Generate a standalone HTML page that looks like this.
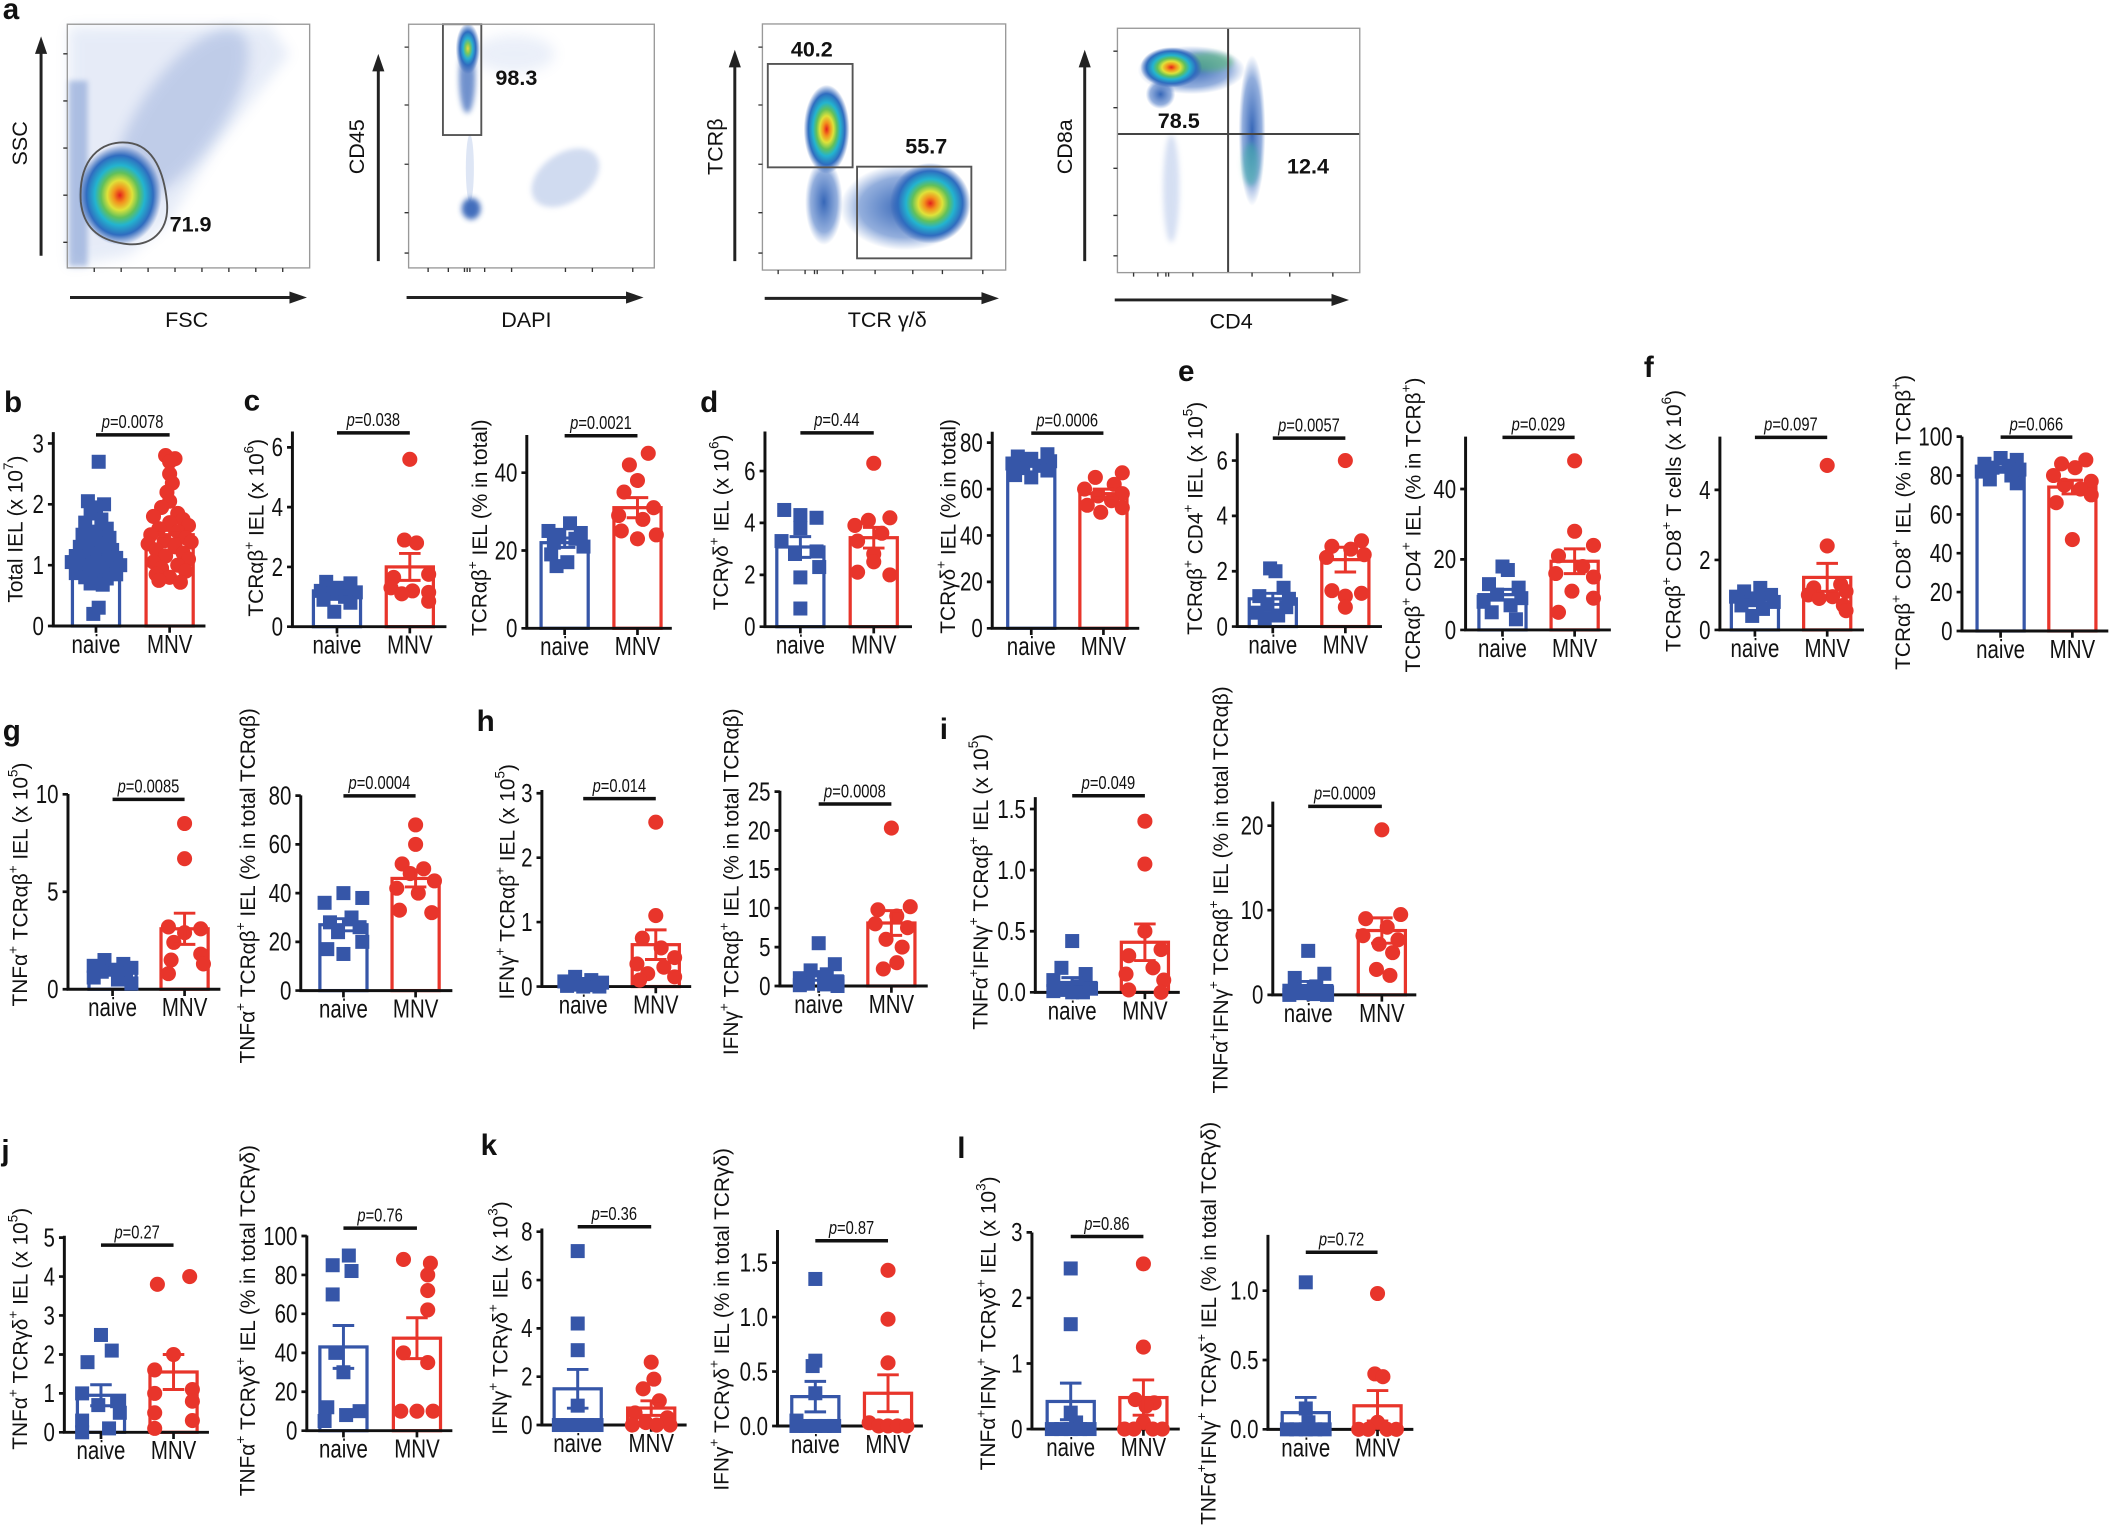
<!DOCTYPE html>
<html><head><meta charset="utf-8"><style>
html,body{margin:0;padding:0;background:#fff}
svg{display:block}
</style></head><body>
<svg xmlns="http://www.w3.org/2000/svg" width="2111" height="1526" viewBox="0 0 1568 1133.5" preserveAspectRatio="none">
<defs>
<style>
text{font-family:"Liberation Sans",Arial,sans-serif;fill:#111}
.ax{fill:none;stroke:#111;stroke-width:2.2}
.tk{fill:none;stroke:#111;stroke-width:2}
.bb{fill:#fff;stroke:#3656a8;stroke-width:2.4}
.rb{fill:#fff;stroke:#e8352b;stroke-width:2.4}
.eb{fill:none;stroke:#3656a8;stroke-width:2.2}
.er{fill:none;stroke:#e8352b;stroke-width:2.2}
.pl{stroke:#111;stroke-width:2.6}
.tl{font-size:19px;text-anchor:end;dominant-baseline:central;transform-box:fill-box;transform-origin:100% 50%;transform:scaleX(.8)}
.xl{font-size:19px;text-anchor:middle;transform-box:fill-box;transform-origin:50% 50%;transform:scaleX(.8)}
.pv{font-size:14px;text-anchor:middle;transform-box:fill-box;transform-origin:50% 50%;transform:scaleX(.78)}
.yl{font-size:15.5px;text-anchor:middle;dominant-baseline:central}
.pn{font-size:22px;font-weight:bold}
.fl{font-size:16px}
.fn{font-size:16px;font-weight:bold}
.fr{fill:none;stroke:#999;stroke-width:1}
.gt{fill:none;stroke:#555;stroke-width:1.4}
.ar{fill:none;stroke:#222;stroke-width:2.2}
.ft{fill:none;stroke:#333;stroke-width:1}
</style>
<rect id="s" x="-5.2" y="-5.2" width="10.4" height="10.4" fill="#3656a8"/>
<circle id="c" r="5.6" fill="#e8352b"/>
<radialGradient id="jet"><stop offset="0" stop-color="#e3201b"/><stop offset=".15" stop-color="#f3901d"/><stop offset=".3" stop-color="#dfe23a"/><stop offset=".45" stop-color="#62c05a"/><stop offset=".6" stop-color="#23b4cf"/><stop offset=".8" stop-color="#2f6cbf"/><stop offset="1" stop-color="#2f5fb5" stop-opacity="0"/></radialGradient>
<radialGradient id="jet2"><stop offset="0" stop-color="#e8d840"/><stop offset=".2" stop-color="#7cc85a"/><stop offset=".4" stop-color="#2ab0d0"/><stop offset=".65" stop-color="#2f6cbf"/><stop offset="1" stop-color="#2f5fb5" stop-opacity="0"/></radialGradient>
<radialGradient id="blu"><stop offset="0" stop-color="#2c5fb4" stop-opacity=".95"/><stop offset=".7" stop-color="#3a6cc0" stop-opacity=".55"/><stop offset="1" stop-color="#4a78c8" stop-opacity="0"/></radialGradient>
<filter id="bl" x="-50%" y="-50%" width="200%" height="200%"><feGaussianBlur stdDeviation="5"/></filter>
<filter id="bl2" x="-50%" y="-50%" width="200%" height="200%"><feGaussianBlur stdDeviation="2"/></filter>
</defs>
<rect width="1568" height="1133.5" fill="#fff"/>

<!-- Panel a -->
<text class="pn" x="2" y="14">a</text>
<!-- plot1 -->
<polygon points="51,198 51,20 200,19 215,40 160,110 125,165 95,190" fill="#5b82cf" opacity=".15" filter="url(#bl)"/>
<ellipse cx="135" cy="85" rx="75" ry="30" transform="rotate(-55 135 85)" fill="#3a64b8" opacity=".22" filter="url(#bl)"/>
<rect x="51" y="60" width="14" height="138" fill="#3d68ba" opacity=".35" filter="url(#bl2)"/>
<ellipse cx="89" cy="145" rx="31" ry="37" fill="url(#jet)"/>
<path class="gt" d="M60,150 C58,118 75,104 95,106 C115,108 122,130 124,150 C126,172 112,184 92,181 C72,178 62,168 60,150Z"/>
<rect class="fr" x="50" y="18" width="180" height="181"/>
<path class="ft" d="M50,40h-3M50,75h-3M50,110h-3M50,145h-3M50,180h-3M70,199v3M90,199v3M110,199v3M130,199v3M150,199v3M170,199v3M190,199v3M210,199v3"/>
<text class="fn" x="126" y="172">71.9</text>
<path class="ar" d="M30.5,190V38M52,221H216"/>
<polygon points="30.5,27 26,40 35,40" fill="#222"/><polygon points="228,221 215,216.5 215,225.5" fill="#222"/>
<text class="fl" text-anchor="middle" dominant-baseline="central" transform="translate(15,106.5) rotate(-90)">SSC</text>
<text class="fl" text-anchor="middle" x="138.6" y="243">FSC</text>
<!-- plot2 -->
<ellipse cx="382" cy="40" rx="30" ry="14" fill="#5b82cf" opacity=".12" filter="url(#bl)"/>
<ellipse cx="420" cy="132" rx="28" ry="18" transform="rotate(-35 420 132)" fill="#4a72c4" opacity=".25" filter="url(#bl2)"/>
<ellipse cx="349" cy="125" rx="3" ry="25" fill="#5b82cf" opacity=".2"/>
<ellipse cx="347" cy="58" rx="6" ry="26" fill="#3563b8" opacity=".7" filter="url(#bl2)"/>
<ellipse cx="347.5" cy="36" rx="9" ry="19" fill="url(#jet2)"/>
<ellipse cx="350" cy="155" rx="7" ry="8" fill="#2f5fb5" opacity=".9" filter="url(#bl2)"/>
<rect class="gt" x="329" y="18" width="28.5" height="82.3"/>
<rect class="fr" x="303.5" y="18" width="182.5" height="181"/>
<path class="ft" d="M303.5,35h-3M303.5,78h-3M303.5,122h-3M303.5,158h-3M303.5,188h-3M318,199v3M333,199v3M345,199v3M347,199v3M349,199v3M360,199v3M380,199v3M420,199v3M440,199v3M470,199v3"/>
<text class="fn" x="368" y="63">98.3</text>
<path class="ar" d="M281,194V50M302,221H467"/>
<polygon points="281,40 276.5,53 285.5,53" fill="#222"/><polygon points="478,221 465,216.5 465,225.5" fill="#222"/>
<text class="fl" text-anchor="middle" dominant-baseline="central" transform="translate(265,109) rotate(-90)">CD45</text>
<text class="fl" text-anchor="middle" x="391" y="243">DAPI</text>
<!-- plot3 -->
<ellipse cx="612" cy="150" rx="14" ry="32" fill="url(#blu)"/>
<ellipse cx="672" cy="154" rx="48" ry="32" fill="url(#blu)"/>
<ellipse cx="691" cy="151" rx="30" ry="30" fill="url(#jet)"/>
<ellipse cx="614" cy="96" rx="17" ry="33" fill="url(#jet)"/>
<rect class="gt" x="570.3" y="47.5" width="63" height="76.8"/>
<rect class="gt" x="636.6" y="123.8" width="84.9" height="68.1"/>
<rect class="fr" x="566.3" y="17.8" width="180.7" height="182.8"/>
<path class="ft" d="M566.3,35h-3M566.3,78h-3M566.3,122h-3M566.3,158h-3M566.3,188h-3M578,200.6v3M598,200.6v3M605,200.6v3M607,200.6v3M626,200.6v3M650,200.6v3M678,200.6v3M700,200.6v3M730,200.6v3"/>
<text class="fn" text-anchor="middle" x="603" y="42">40.2</text>
<text class="fn" text-anchor="middle" x="688" y="114">55.7</text>
<path class="ar" d="M545.8,194V47M568,221.6H731"/>
<polygon points="545.8,37 541.3,50 550.3,50" fill="#222"/><polygon points="742,221.6 729,217 729,226" fill="#222"/>
<text class="fl" text-anchor="middle" dominant-baseline="central" transform="translate(531.5,109) rotate(-90)">TCRβ</text>
<text class="fl" text-anchor="middle" x="659" y="243">TCR γ/δ</text>
<!-- plot4 -->
<ellipse cx="870" cy="140" rx="6" ry="40" fill="#5b82cf" opacity=".25" filter="url(#bl2)"/>
<ellipse cx="885" cy="52" rx="40" ry="18" fill="url(#blu)"/>
<ellipse cx="862" cy="70" rx="11" ry="11" fill="url(#blu)"/>
<ellipse cx="930" cy="97" rx="10" ry="56" fill="url(#blu)"/>
<ellipse cx="929" cy="122" rx="6" ry="16" fill="#34b0a0" opacity=".5" filter="url(#bl2)"/>
<ellipse cx="898" cy="46" rx="18" ry="7" fill="#4fb86a" opacity=".55" filter="url(#bl2)"/>
<ellipse cx="870" cy="50" rx="23" ry="15" fill="url(#jet)"/>
<path d="M912.2,21V202.5M830,99.5H1010" stroke="#444" stroke-width="1.5"/>
<rect class="fr" x="830" y="21" width="180" height="181.5"/>
<path class="ft" d="M830,38h-3M830,80h-3M830,125h-3M830,160h-3M830,190h-3M842,202.5v3M860,202.5v3M866,202.5v3M868,202.5v3M886,202.5v3M930,202.5v3M958,202.5v3M990,202.5v3"/>
<text class="fn" x="860" y="95">78.5</text>
<text class="fn" x="956" y="129">12.4</text>
<path class="ar" d="M805.7,194V47M828,222.8H991"/>
<polygon points="805.7,37 801.2,50 810.2,50" fill="#222"/><polygon points="1002,222.8 989,218.3 989,227.3" fill="#222"/>
<text class="fl" text-anchor="middle" dominant-baseline="central" transform="translate(791,109) rotate(-90)">CD8a</text>
<text class="fl" text-anchor="middle" x="914.5" y="244">CD4</text>

<!-- Panel letters -->
<text class="pn" x="3" y="306">b</text>
<text class="pn" x="181" y="305">c</text>
<text class="pn" x="520" y="306">d</text>
<text class="pn" x="875" y="283">e</text>
<text class="pn" x="1221" y="280">f</text>
<text class="pn" x="2" y="550">g</text>
<text class="pn" x="354" y="543">h</text>
<text class="pn" x="698" y="549">i</text>
<text class="pn" x="1" y="862">j</text>
<text class="pn" x="357" y="858">k</text>
<text class="pn" x="711" y="860">l</text>

<!-- Y labels -->
<text class="yl" transform="translate(12,393) rotate(-90)">Total IEL (x 10<tspan font-size="10" dy="-6">7</tspan><tspan dy="6">)</tspan></text>
<text class="yl" transform="translate(190.7,392) rotate(-90)">TCRαβ<tspan font-size="10" dy="-6">+</tspan><tspan dy="6"> IEL (x 10</tspan><tspan font-size="10" dy="-6">6</tspan><tspan dy="6">)</tspan></text>
<text class="yl" transform="translate(356.5,392) rotate(-90)">TCRαβ<tspan font-size="10" dy="-6">+</tspan><tspan dy="6"> IEL (% in total)</tspan></text>
<text class="yl" transform="translate(535.8,388) rotate(-90)">TCRγδ<tspan font-size="10" dy="-6">+</tspan><tspan dy="6"> IEL (x 10</tspan><tspan font-size="10" dy="-6">6</tspan><tspan dy="6">)</tspan></text>
<text class="yl" transform="translate(704.6,391) rotate(-90)">TCRγδ<tspan font-size="10" dy="-6">+</tspan><tspan dy="6"> IEL (% in total)</tspan></text>
<text class="yl" transform="translate(888,385) rotate(-90)">TCRαβ<tspan font-size="10" dy="-6">+</tspan><tspan dy="6"> CD4</tspan><tspan font-size="10" dy="-6">+</tspan><tspan dy="6"> IEL (x 10</tspan><tspan font-size="10" dy="-6">5</tspan><tspan dy="6">)</tspan></text>
<text class="yl" transform="translate(1050,390) rotate(-90)">TCRαβ<tspan font-size="10" dy="-6">+</tspan><tspan dy="6"> CD4</tspan><tspan font-size="10" dy="-6">+</tspan><tspan dy="6"> IEL (% in TCRβ</tspan><tspan font-size="10" dy="-6">+</tspan><tspan dy="6">)</tspan></text>
<text class="yl" transform="translate(1243.4,387) rotate(-90)">TCRαβ<tspan font-size="10" dy="-6">+</tspan><tspan dy="6"> CD8</tspan><tspan font-size="10" dy="-6">+</tspan><tspan dy="6"> T cells (x 10</tspan><tspan font-size="10" dy="-6">6</tspan><tspan dy="6">)</tspan></text>
<text class="yl" transform="translate(1414,388) rotate(-90)">TCRαβ<tspan font-size="10" dy="-6">+</tspan><tspan dy="6"> CD8</tspan><tspan font-size="10" dy="-6">+</tspan><tspan dy="6"> IEL (% in TCRβ</tspan><tspan font-size="10" dy="-6">+</tspan><tspan dy="6">)</tspan></text>
<text class="yl" transform="translate(15.4,657) rotate(-90)">TNFα<tspan font-size="10" dy="-6">+</tspan><tspan dy="6"> TCRαβ</tspan><tspan font-size="10" dy="-6">+</tspan><tspan dy="6"> IEL (x 10</tspan><tspan font-size="10" dy="-6">5</tspan><tspan dy="6">)</tspan></text>
<text class="yl" transform="translate(184.2,658) rotate(-90)">TNFα<tspan font-size="10" dy="-6">+</tspan><tspan dy="6"> TCRαβ</tspan><tspan font-size="10" dy="-6">+</tspan><tspan dy="6"> IEL (% in total TCRαβ)</tspan></text>
<text class="yl" transform="translate(376.9,655) rotate(-90)">IFNγ<tspan font-size="10" dy="-6">+</tspan><tspan dy="6"> TCRαβ</tspan><tspan font-size="10" dy="-6">+</tspan><tspan dy="6"> IEL (x 10</tspan><tspan font-size="10" dy="-6">5</tspan><tspan dy="6">)</tspan></text>
<text class="yl" transform="translate(543.3,655) rotate(-90)">IFNγ<tspan font-size="10" dy="-6">+</tspan><tspan dy="6"> TCRαβ</tspan><tspan font-size="10" dy="-6">+</tspan><tspan dy="6"> IEL (% in total TCRαβ)</tspan></text>
<text class="yl" transform="translate(728.7,655) rotate(-90)">TNFα<tspan font-size="10" dy="-6">+</tspan><tspan dy="6">IFNγ</tspan><tspan font-size="10" dy="-6">+</tspan><tspan dy="6"> TCRαβ</tspan><tspan font-size="10" dy="-6">+</tspan><tspan dy="6"> IEL (x 10</tspan><tspan font-size="10" dy="-6">5</tspan><tspan dy="6">)</tspan></text>
<text class="yl" transform="translate(906.9,661) rotate(-90)">TNFα<tspan font-size="10" dy="-6">+</tspan><tspan dy="6">IFNγ</tspan><tspan font-size="10" dy="-6">+</tspan><tspan dy="6"> TCRαβ</tspan><tspan font-size="10" dy="-6">+</tspan><tspan dy="6"> IEL (% in total TCRαβ)</tspan></text>
<text class="yl" transform="translate(15.4,987) rotate(-90)">TNFα<tspan font-size="10" dy="-6">+</tspan><tspan dy="6"> TCRγδ</tspan><tspan font-size="10" dy="-6">+</tspan><tspan dy="6"> IEL (x 10</tspan><tspan font-size="10" dy="-6">5</tspan><tspan dy="6">)</tspan></text>
<text class="yl" transform="translate(184.2,981) rotate(-90)">TNFα<tspan font-size="10" dy="-6">+</tspan><tspan dy="6"> TCRγδ</tspan><tspan font-size="10" dy="-6">+</tspan><tspan dy="6"> IEL (% in total TCRγδ)</tspan></text>
<text class="yl" transform="translate(371.8,979) rotate(-90)">IFNγ<tspan font-size="10" dy="-6">+</tspan><tspan dy="6"> TCRγδ</tspan><tspan font-size="10" dy="-6">+</tspan><tspan dy="6"> IEL (x 10</tspan><tspan font-size="10" dy="-6">3</tspan><tspan dy="6">)</tspan></text>
<text class="yl" transform="translate(536.1,980) rotate(-90)">IFNγ<tspan font-size="10" dy="-6">+</tspan><tspan dy="6"> TCRγδ</tspan><tspan font-size="10" dy="-6">+</tspan><tspan dy="6"> IEL (% in total TCRγδ)</tspan></text>
<text class="yl" transform="translate(734.1,983) rotate(-90)">TNFα<tspan font-size="10" dy="-6">+</tspan><tspan dy="6">IFNγ</tspan><tspan font-size="10" dy="-6">+</tspan><tspan dy="6"> TCRγδ</tspan><tspan font-size="10" dy="-6">+</tspan><tspan dy="6"> IEL (x 10</tspan><tspan font-size="10" dy="-6">3</tspan><tspan dy="6">)</tspan></text>
<text class="yl" transform="translate(897.9,983) rotate(-90)">TNFα<tspan font-size="10" dy="-6">+</tspan><tspan dy="6">IFNγ</tspan><tspan font-size="10" dy="-6">+</tspan><tspan dy="6"> TCRγδ</tspan><tspan font-size="10" dy="-6">+</tspan><tspan dy="6"> IEL (% in total TCRγδ)</tspan></text>

<!-- b -->
<g transform="translate(39.6,465)">
<rect class="bb" x="14.2" y="-54.2" width="35" height="54.2"/><rect class="rb" x="68.9" y="-67.8" width="35" height="67.8"/>
<path class="ax" d="M0 -144V0H113"/>
<path class="tk" d="M-4 0H0M-4 -45.2H0M-4 -90.4H0M-4 -135.6H0M31.7 0v5M86.4 0v5"/>
<text class="tl" x="-7" y="0">0</text><text class="tl" x="-7" y="-45.2">1</text><text class="tl" x="-7" y="-90.4">2</text><text class="tl" x="-7" y="-135.6">3</text>
<use href="#s" x="33.7" y="-122"/><use href="#s" x="25.7" y="-92.7"/><use href="#s" x="37.7" y="-90.4"/><use href="#s" x="31.7" y="-88.1"/><use href="#s" x="27.7" y="-83.6"/><use href="#s" x="35.7" y="-79.1"/><use href="#s" x="23.7" y="-76.8"/><use href="#s" x="39.7" y="-72.3"/><use href="#s" x="31.7" y="-70.1"/><use href="#s" x="21.7" y="-67.8"/><use href="#s" x="41.7" y="-65.5"/><use href="#s" x="28.7" y="-63.3"/><use href="#s" x="35.7" y="-61"/><use href="#s" x="19.7" y="-58.8"/><use href="#s" x="43.7" y="-56.5"/><use href="#s" x="25.7" y="-54.2"/><use href="#s" x="37.7" y="-54.2"/><use href="#s" x="16.7" y="-52"/><use href="#s" x="31.7" y="-52"/><use href="#s" x="46.7" y="-50.6"/><use href="#s" x="22.7" y="-49.7"/><use href="#s" x="40.7" y="-48.8"/><use href="#s" x="13.7" y="-47.5"/><use href="#s" x="31.7" y="-45.2"/><use href="#s" x="49.7" y="-45.2"/><use href="#s" x="19.7" y="-44.3"/><use href="#s" x="43.7" y="-42.9"/><use href="#s" x="26.7" y="-41.6"/><use href="#s" x="36.7" y="-40.7"/><use href="#s" x="16.7" y="-39.3"/><use href="#s" x="46.7" y="-38.4"/><use href="#s" x="23.7" y="-36.2"/><use href="#s" x="39.7" y="-35.3"/><use href="#s" x="31.7" y="-33.9"/><use href="#s" x="27.7" y="-31.6"/><use href="#s" x="36.7" y="-30.7"/><use href="#s" x="33.7" y="-13.6"/><use href="#s" x="29.7" y="-9"/>
<use href="#c" x="83.4" y="-126.6"/><use href="#c" x="90.4" y="-124.3"/><use href="#c" x="86.4" y="-122"/><use href="#c" x="86.4" y="-113"/><use href="#c" x="88.4" y="-106.2"/><use href="#c" x="84.4" y="-99.4"/><use href="#c" x="86.4" y="-92.7"/><use href="#c" x="80.4" y="-88.1"/><use href="#c" x="92.4" y="-83.6"/><use href="#c" x="74.4" y="-81.4"/><use href="#c" x="96.4" y="-79.1"/><use href="#c" x="86.4" y="-76.8"/><use href="#c" x="100.4" y="-74.6"/><use href="#c" x="78.4" y="-72.3"/><use href="#c" x="92.4" y="-70.1"/><use href="#c" x="72.4" y="-67.8"/><use href="#c" x="98.4" y="-65.5"/><use href="#c" x="82.4" y="-63.3"/><use href="#c" x="102.4" y="-62.4"/><use href="#c" x="70.4" y="-61"/><use href="#c" x="90.4" y="-58.8"/><use href="#c" x="76.4" y="-56.5"/><use href="#c" x="96.4" y="-54.2"/><use href="#c" x="83.4" y="-52"/><use href="#c" x="100.4" y="-49.7"/><use href="#c" x="74.4" y="-47.5"/><use href="#c" x="92.4" y="-45.2"/><use href="#c" x="80.4" y="-42.9"/><use href="#c" x="98.4" y="-40.7"/><use href="#c" x="76.4" y="-38.4"/><use href="#c" x="86.4" y="-36.2"/><use href="#c" x="78.4" y="-33.9"/><use href="#c" x="94.4" y="-32.5"/>
<path class="eb" d="M23.7 -57.4H39.7M31.7 -57.4V-51M23.7 -51H39.7"/><path class="er" d="M78.4 -71H94.4M86.4 -71V-64.6M78.4 -64.6H94.4"/>
<text class="xl" x="31.7" y="20">naive</text><text class="xl" x="86.4" y="20">MNV</text>
<path class="pl" d="M31.7 -142H86.4"/><text class="pv" x="59" y="-147"><tspan font-style="italic">p</tspan>=0.0078</text>
</g>

<!-- c-left -->
<g transform="translate(217.2,465.5)">
<rect class="bb" x="15.6" y="-26.6" width="35" height="26.6"/><rect class="rb" x="69.7" y="-44.4" width="35" height="44.4"/>
<path class="ax" d="M0 -145V0H114.4"/>
<path class="tk" d="M-4 0H0M-4 -44.4H0M-4 -88.8H0M-4 -133.2H0M33.1 0v5M87.2 0v5"/>
<text class="tl" x="-7" y="0">0</text><text class="tl" x="-7" y="-44.4">2</text><text class="tl" x="-7" y="-88.8">4</text><text class="tl" x="-7" y="-133.2">6</text>
<use href="#s" x="25.1" y="-33.3"/><use href="#s" x="43.1" y="-32.2"/><use href="#s" x="33.1" y="-28.9"/><use href="#s" x="21.1" y="-26.6"/><use href="#s" x="47.1" y="-25.5"/><use href="#s" x="29.1" y="-24.4"/><use href="#s" x="39.1" y="-22.2"/><use href="#s" x="23.1" y="-20"/><use href="#s" x="43.1" y="-17.8"/><use href="#s" x="31.1" y="-11.1"/>
<use href="#c" x="87.2" y="-124.3"/><use href="#c" x="83.2" y="-64.4"/><use href="#c" x="92.2" y="-62.2"/><use href="#c" x="101.2" y="-38.9"/><use href="#c" x="75.2" y="-36.6"/><use href="#c" x="73.2" y="-28.9"/><use href="#c" x="89.2" y="-26.6"/><use href="#c" x="101.2" y="-25.5"/><use href="#c" x="81.2" y="-24.4"/><use href="#c" x="101.2" y="-18.9"/>
<path class="eb" d="M25.1 -28.8H41.1M33.1 -28.8V-24.4M25.1 -24.4H41.1"/><path class="er" d="M79.2 -54.4H95.2M87.2 -54.4V-34.4M79.2 -34.4H95.2"/>
<text class="xl" x="33.1" y="20">naive</text><text class="xl" x="87.2" y="20">MNV</text>
<path class="pl" d="M33.1 -144H87.2"/><text class="pv" x="60.2" y="-149"><tspan font-style="italic">p</tspan>=0.038</text>
</g>

<!-- c-right -->
<g transform="translate(391.3,466.7)">
<rect class="bb" x="10.6" y="-63.6" width="35" height="63.6"/><rect class="rb" x="64.7" y="-89.6" width="35" height="89.6"/>
<path class="ax" d="M0 -143.6V0H107.7"/>
<path class="tk" d="M-4 0H0M-4 -57.8H0M-4 -115.6H0M28.1 0v5M82.2 0v5"/>
<text class="tl" x="-7" y="0">0</text><text class="tl" x="-7" y="-57.8">20</text><text class="tl" x="-7" y="-115.6">40</text>
<use href="#s" x="32.1" y="-78"/><use href="#s" x="16.1" y="-72.3"/><use href="#s" x="40.1" y="-70.8"/><use href="#s" x="24.1" y="-69.4"/><use href="#s" x="36.1" y="-66.5"/><use href="#s" x="20.1" y="-63.6"/><use href="#s" x="42.1" y="-60.7"/><use href="#s" x="18.1" y="-54.9"/><use href="#s" x="30.1" y="-49.1"/><use href="#s" x="22.1" y="-46.2"/>
<use href="#c" x="90.2" y="-130"/><use href="#c" x="76.2" y="-121.4"/><use href="#c" x="82.2" y="-109.8"/><use href="#c" x="72.2" y="-101.2"/><use href="#c" x="94.2" y="-89.6"/><use href="#c" x="68.2" y="-83.8"/><use href="#c" x="86.2" y="-80.9"/><use href="#c" x="70.2" y="-72.3"/><use href="#c" x="96.2" y="-69.4"/><use href="#c" x="82.2" y="-66.5"/>
<path class="eb" d="M20.1 -67.1H36.1M28.1 -67.1V-60.1M20.1 -60.1H36.1"/><path class="er" d="M74.2 -97.1H90.2M82.2 -97.1V-82.1M74.2 -82.1H90.2"/>
<text class="xl" x="28.1" y="20">naive</text><text class="xl" x="82.2" y="20">MNV</text>
<path class="pl" d="M28.1 -143H82.2"/><text class="pv" x="55.2" y="-148"><tspan font-style="italic">p</tspan>=0.0021</text>
</g>

<!-- d-left -->
<g transform="translate(568.2,465.5)">
<rect class="bb" x="8.8" y="-59.2" width="35" height="59.2"/><rect class="rb" x="63.3" y="-66.1" width="35" height="66.1"/>
<path class="ax" d="M0 -145V0H109.2"/>
<path class="tk" d="M-4 0H0M-4 -38.5H0M-4 -77.1H0M-4 -115.6H0M26.3 0v5M80.8 0v5"/>
<text class="tl" x="-7" y="0">0</text><text class="tl" x="-7" y="-38.5">2</text><text class="tl" x="-7" y="-77.1">4</text><text class="tl" x="-7" y="-115.6">6</text>
<use href="#s" x="14.3" y="-86.7"/><use href="#s" x="26.3" y="-82.9"/><use href="#s" x="38.3" y="-80.9"/><use href="#s" x="26.3" y="-73.2"/><use href="#s" x="12.3" y="-63.6"/><use href="#s" x="38.3" y="-55.9"/><use href="#s" x="22.3" y="-54"/><use href="#s" x="40.3" y="-44.3"/><use href="#s" x="26.3" y="-36.6"/><use href="#s" x="26.3" y="-13.5"/>
<use href="#c" x="80.8" y="-121.4"/><use href="#c" x="92.8" y="-80.9"/><use href="#c" x="76.8" y="-79"/><use href="#c" x="66.8" y="-75.2"/><use href="#c" x="86.8" y="-69.4"/><use href="#c" x="68.8" y="-63.6"/><use href="#c" x="80.8" y="-54"/><use href="#c" x="68.8" y="-40.5"/><use href="#c" x="92.8" y="-38.5"/><use href="#c" x="80.8" y="-48.2"/>
<path class="eb" d="M18.3 -66.9H34.3M26.3 -66.9V-51.5M18.3 -51.5H34.3"/><path class="er" d="M72.8 -73.8H88.8M80.8 -73.8V-58.4M72.8 -58.4H88.8"/>
<text class="xl" x="26.3" y="20">naive</text><text class="xl" x="80.8" y="20">MNV</text>
<path class="pl" d="M26.3 -144H80.8"/><text class="pv" x="53.55" y="-149"><tspan font-style="italic">p</tspan>=0.44</text>
</g>

<!-- d-right -->
<g transform="translate(737,466.7)">
<rect class="bb" x="11.5" y="-122.4" width="35" height="122.4"/><rect class="rb" x="65.1" y="-100" width="35" height="100"/>
<path class="ax" d="M0 -146V0H109.2"/>
<path class="tk" d="M-4 0H0M-4 -34.5H0M-4 -69H0M-4 -103.4H0M-4 -137.9H0M29 0v5M82.6 0v5"/>
<text class="tl" x="-7" y="0">0</text><text class="tl" x="-7" y="-34.5">20</text><text class="tl" x="-7" y="-69">40</text><text class="tl" x="-7" y="-103.4">60</text><text class="tl" x="-7" y="-137.9">80</text>
<use href="#s" x="41" y="-129.3"/><use href="#s" x="19" y="-127.6"/><use href="#s" x="29" y="-125.9"/><use href="#s" x="43" y="-124.1"/><use href="#s" x="15" y="-122.4"/><use href="#s" x="35" y="-120.7"/><use href="#s" x="23" y="-119"/><use href="#s" x="41" y="-117.2"/><use href="#s" x="17" y="-113.8"/><use href="#s" x="29" y="-112.1"/>
<use href="#c" x="96.6" y="-115.5"/><use href="#c" x="76.6" y="-112.1"/><use href="#c" x="90.6" y="-106.9"/><use href="#c" x="68.6" y="-103.4"/><use href="#c" x="96.6" y="-100"/><use href="#c" x="78.6" y="-98.3"/><use href="#c" x="88.6" y="-94.8"/><use href="#c" x="70.6" y="-91.4"/><use href="#c" x="96.6" y="-89.6"/><use href="#c" x="80.6" y="-86.2"/>
<path class="eb" d="M21 -124.5H37M29 -124.5V-120.3M21 -120.3H37"/><path class="er" d="M74.6 -103.4H90.6M82.6 -103.4V-96.6M74.6 -96.6H90.6"/>
<text class="xl" x="29" y="20">naive</text><text class="xl" x="82.6" y="20">MNV</text>
<path class="pl" d="M29 -145H82.6"/><text class="pv" x="55.8" y="-150"><tspan font-style="italic">p</tspan>=0.0006</text>
</g>

<!-- e-left -->
<g transform="translate(919,465.4)">
<rect class="bb" x="8.9" y="-20.6" width="35" height="20.6"/><rect class="rb" x="62.8" y="-49.7" width="35" height="49.7"/>
<path class="ax" d="M0 -143.6V0H107.5"/>
<path class="tk" d="M-4 0H0M-4 -41.1H0M-4 -82.2H0M-4 -123.3H0M26.4 0v5M80.3 0v5"/>
<text class="tl" x="-7" y="0">0</text><text class="tl" x="-7" y="-41.1">2</text><text class="tl" x="-7" y="-82.2">4</text><text class="tl" x="-7" y="-123.3">6</text>
<use href="#s" x="24.4" y="-43.2"/><use href="#s" x="28.4" y="-41.1"/><use href="#s" x="34.4" y="-28.8"/><use href="#s" x="16.4" y="-22.6"/><use href="#s" x="38.4" y="-20.6"/><use href="#s" x="22.4" y="-16.4"/><use href="#s" x="36.4" y="-14.4"/><use href="#s" x="14.4" y="-10.3"/><use href="#s" x="30.4" y="-8.2"/><use href="#s" x="20.4" y="-6.2"/>
<use href="#c" x="80.3" y="-123.3"/><use href="#c" x="92.3" y="-63.7"/><use href="#c" x="70.3" y="-59.6"/><use href="#c" x="84.3" y="-57.5"/><use href="#c" x="94.3" y="-53.4"/><use href="#c" x="66.3" y="-51.4"/><use href="#c" x="70.3" y="-26.7"/><use href="#c" x="92.3" y="-24.7"/><use href="#c" x="80.3" y="-22.6"/><use href="#c" x="80.3" y="-14.4"/>
<path class="eb" d="M18.4 -24.7H34.4M26.4 -24.7V-16.5M18.4 -16.5H34.4"/><path class="er" d="M72.3 -58.9H88.3M80.3 -58.9V-40.5M72.3 -40.5H88.3"/>
<text class="xl" x="26.4" y="20">naive</text><text class="xl" x="80.3" y="20">MNV</text>
<path class="pl" d="M26.4 -140H80.3"/><text class="pv" x="53.35" y="-145"><tspan font-style="italic">p</tspan>=0.0057</text>
</g>

<!-- e-right -->
<g transform="translate(1088.6,467.9)">
<rect class="bb" x="9.9" y="-26.2" width="35" height="26.2"/><rect class="rb" x="63.5" y="-51" width="35" height="51"/>
<path class="ax" d="M0 -143.6V0H107.9"/>
<path class="tk" d="M-4 0H0M-4 -52.4H0M-4 -104.7H0M27.4 0v5M81 0v5"/>
<text class="tl" x="-7" y="0">0</text><text class="tl" x="-7" y="-52.4">20</text><text class="tl" x="-7" y="-104.7">40</text>
<use href="#s" x="27.4" y="-47.1"/><use href="#s" x="31.4" y="-44.5"/><use href="#s" x="17.4" y="-34"/><use href="#s" x="39.4" y="-31.4"/><use href="#s" x="23.4" y="-26.2"/><use href="#s" x="41.4" y="-23.6"/><use href="#s" x="13.4" y="-20.9"/><use href="#s" x="33.4" y="-18.3"/><use href="#s" x="19.4" y="-13.1"/><use href="#s" x="37.4" y="-7.9"/>
<use href="#c" x="81" y="-125.6"/><use href="#c" x="81" y="-73.3"/><use href="#c" x="95" y="-62.8"/><use href="#c" x="69" y="-55"/><use href="#c" x="87" y="-47.1"/><use href="#c" x="67" y="-41.9"/><use href="#c" x="95" y="-39.3"/><use href="#c" x="79" y="-28.8"/><use href="#c" x="95" y="-23.6"/><use href="#c" x="69" y="-13.1"/>
<path class="eb" d="M19.4 -30.1H35.4M27.4 -30.1V-22.3M19.4 -22.3H35.4"/><path class="er" d="M73 -60.2H89M81 -60.2V-41.8M73 -41.8H89"/>
<text class="xl" x="27.4" y="20">naive</text><text class="xl" x="81" y="20">MNV</text>
<path class="pl" d="M27.4 -143H81"/><text class="pv" x="54.2" y="-148"><tspan font-style="italic">p</tspan>=0.029</text>
</g>

<!-- f-left -->
<g transform="translate(1277.5,467.9)">
<rect class="bb" x="8.5" y="-22.6" width="35" height="22.6"/><rect class="rb" x="62.2" y="-39" width="35" height="39"/>
<path class="ax" d="M0 -143.6V0H107"/>
<path class="tk" d="M-4 0H0M-4 -52H0M-4 -104H0M26 0v5M79.7 0v5"/>
<text class="tl" x="-7" y="0">0</text><text class="tl" x="-7" y="-52">2</text><text class="tl" x="-7" y="-104">4</text>
<use href="#s" x="30" y="-31.2"/><use href="#s" x="18" y="-28.6"/><use href="#s" x="38" y="-26"/><use href="#s" x="12" y="-24.7"/><use href="#s" x="28" y="-23.4"/><use href="#s" x="22" y="-22.1"/><use href="#s" x="40" y="-20.8"/><use href="#s" x="16" y="-18.2"/><use href="#s" x="32" y="-15.6"/><use href="#s" x="24" y="-10.4"/>
<use href="#c" x="79.7" y="-122.2"/><use href="#c" x="79.7" y="-62.4"/><use href="#c" x="89.7" y="-33.8"/><use href="#c" x="69.7" y="-31.2"/><use href="#c" x="93.7" y="-28.6"/><use href="#c" x="65.7" y="-26"/><use href="#c" x="83.7" y="-24.7"/><use href="#c" x="73.7" y="-23.4"/><use href="#c" x="91.7" y="-18.2"/><use href="#c" x="93.7" y="-14.3"/>
<path class="eb" d="M18 -24.7H34M26 -24.7V-20.5M18 -20.5H34"/><path class="er" d="M71.7 -49.4H87.7M79.7 -49.4V-28.6M71.7 -28.6H87.7"/>
<text class="xl" x="26" y="20">naive</text><text class="xl" x="79.7" y="20">MNV</text>
<path class="pl" d="M26 -143H79.7"/><text class="pv" x="52.85" y="-148"><tspan font-style="italic">p</tspan>=0.097</text>
</g>

<!-- f-right -->
<g transform="translate(1457.3,468.7)">
<rect class="bb" x="11.2" y="-119.9" width="35" height="119.9"/><rect class="rb" x="64.5" y="-106.9" width="35" height="106.9"/>
<path class="ax" d="M0 -144.4V0H108.7"/>
<path class="tk" d="M-4 0H0M-4 -28.9H0M-4 -57.8H0M-4 -86.6H0M-4 -115.5H0M-4 -144.4H0M28.7 0v5M82 0v5"/>
<text class="tl" x="-7" y="0">0</text><text class="tl" x="-7" y="-28.9">20</text><text class="tl" x="-7" y="-57.8">40</text><text class="tl" x="-7" y="-86.6">60</text><text class="tl" x="-7" y="-115.5">80</text><text class="tl" x="-7" y="-144.4">100</text>
<use href="#s" x="28.7" y="-128.5"/><use href="#s" x="40.7" y="-127.1"/><use href="#s" x="16.7" y="-124.2"/><use href="#s" x="34.7" y="-122.7"/><use href="#s" x="22.7" y="-121.3"/><use href="#s" x="42.7" y="-119.9"/><use href="#s" x="14.7" y="-118.4"/><use href="#s" x="36.7" y="-115.5"/><use href="#s" x="20.7" y="-112.6"/><use href="#s" x="40.7" y="-109.7"/>
<use href="#c" x="92" y="-127.1"/><use href="#c" x="74" y="-124.2"/><use href="#c" x="84" y="-121.3"/><use href="#c" x="68" y="-115.5"/><use href="#c" x="96" y="-111.2"/><use href="#c" x="76" y="-108.3"/><use href="#c" x="88" y="-105.4"/><use href="#c" x="96" y="-101.1"/><use href="#c" x="70" y="-95.3"/><use href="#c" x="82" y="-67.9"/>
<path class="eb" d="M20.7 -121.9H36.7M28.7 -121.9V-117.9M20.7 -117.9H36.7"/><path class="er" d="M74 -112H90M82 -112V-101.8M74 -101.8H90"/>
<text class="xl" x="28.7" y="20">naive</text><text class="xl" x="82" y="20">MNV</text>
<path class="pl" d="M28.7 -144H82"/><text class="pv" x="55.35" y="-149"><tspan font-style="italic">p</tspan>=0.066</text>
</g>

<!-- g-left -->
<g transform="translate(50.5,734.8)">
<rect class="bb" x="15.6" y="-14.5" width="35" height="14.5"/><rect class="rb" x="69.1" y="-44.9" width="35" height="44.9"/>
<path class="ax" d="M0 -145V0H113.2"/>
<path class="tk" d="M-4 0H0M-4 -72.4H0M-4 -144.8H0M33.1 0v5M86.6 0v5"/>
<text class="tl" x="-7" y="0">0</text><text class="tl" x="-7" y="-72.4">5</text><text class="tl" x="-7" y="-144.8">10</text>
<use href="#s" x="27.1" y="-21.7"/><use href="#s" x="41.1" y="-18.8"/><use href="#s" x="19.1" y="-17.4"/><use href="#s" x="47.1" y="-15.9"/><use href="#s" x="33.1" y="-14.5"/><use href="#s" x="25.1" y="-13"/><use href="#s" x="43.1" y="-11.6"/><use href="#s" x="19.1" y="-8.7"/><use href="#s" x="37.1" y="-7.2"/><use href="#s" x="47.1" y="-4.3"/>
<use href="#c" x="86.6" y="-123.1"/><use href="#c" x="86.6" y="-97"/><use href="#c" x="74.6" y="-46.3"/><use href="#c" x="98.6" y="-44.9"/><use href="#c" x="86.6" y="-42"/><use href="#c" x="78.6" y="-34.8"/><use href="#c" x="98.6" y="-26.1"/><use href="#c" x="76.6" y="-21.7"/><use href="#c" x="100.6" y="-18.8"/><use href="#c" x="74.6" y="-11.6"/>
<path class="eb" d="M25.1 -15.9H41.1M33.1 -15.9V-13.1M25.1 -13.1H41.1"/><path class="er" d="M78.6 -56.5H94.6M86.6 -56.5V-33.3M78.6 -33.3H94.6"/>
<text class="xl" x="33.1" y="20">naive</text><text class="xl" x="86.6" y="20">MNV</text>
<path class="pl" d="M33.1 -141H86.6"/><text class="pv" x="59.85" y="-146"><tspan font-style="italic">p</tspan>=0.0085</text>
</g>

<!-- g-right -->
<g transform="translate(223.4,735.8)">
<rect class="bb" x="14.2" y="-48.9" width="35" height="48.9"/><rect class="rb" x="67.8" y="-83.3" width="35" height="83.3"/>
<path class="ax" d="M0 -145V0H112.6"/>
<path class="tk" d="M-4 0H0M-4 -36.2H0M-4 -72.4H0M-4 -108.6H0M-4 -144.8H0M31.7 0v5M85.3 0v5"/>
<text class="tl" x="-7" y="0">0</text><text class="tl" x="-7" y="-36.2">20</text><text class="tl" x="-7" y="-72.4">40</text><text class="tl" x="-7" y="-108.6">60</text><text class="tl" x="-7" y="-144.8">80</text>
<use href="#s" x="31.7" y="-72.4"/><use href="#s" x="45.7" y="-68.8"/><use href="#s" x="17.7" y="-65.2"/><use href="#s" x="37.7" y="-54.3"/><use href="#s" x="21.7" y="-50.7"/><use href="#s" x="43.7" y="-47.1"/><use href="#s" x="27.7" y="-43.4"/><use href="#s" x="45.7" y="-36.2"/><use href="#s" x="19.7" y="-30.8"/><use href="#s" x="31.7" y="-27.2"/>
<use href="#c" x="85.3" y="-123.1"/><use href="#c" x="85.3" y="-108.6"/><use href="#c" x="75.3" y="-94.1"/><use href="#c" x="91.3" y="-90.5"/><use href="#c" x="81.3" y="-86.9"/><use href="#c" x="99.3" y="-81.5"/><use href="#c" x="71.3" y="-76"/><use href="#c" x="87.3" y="-72.4"/><use href="#c" x="73.3" y="-59.7"/><use href="#c" x="97.3" y="-57.9"/>
<path class="eb" d="M23.7 -53.4H39.7M31.7 -53.4V-44.4M23.7 -44.4H39.7"/><path class="er" d="M77.3 -89.6H93.3M85.3 -89.6V-77M77.3 -77H93.3"/>
<text class="xl" x="31.7" y="20">naive</text><text class="xl" x="85.3" y="20">MNV</text>
<path class="pl" d="M31.7 -144.6H85.3"/><text class="pv" x="58.5" y="-149.6"><tspan font-style="italic">p</tspan>=0.0004</text>
</g>

<!-- h-left -->
<g transform="translate(402.5,732.8)">
<rect class="bb" x="13.2" y="-2.4" width="35" height="2.4"/><rect class="rb" x="67.1" y="-31.1" width="35" height="31.1"/>
<path class="ax" d="M0 -146V0H110.9"/>
<path class="tk" d="M-4 0H0M-4 -47.9H0M-4 -95.7H0M-4 -143.6H0M30.7 0v5M84.6 0v5"/>
<text class="tl" x="-7" y="0">0</text><text class="tl" x="-7" y="-47.9">1</text><text class="tl" x="-7" y="-95.7">2</text><text class="tl" x="-7" y="-143.6">3</text>
<use href="#s" x="24.7" y="-7.2"/><use href="#s" x="36.7" y="-4.8"/><use href="#s" x="16.7" y="-3.8"/><use href="#s" x="44.7" y="-2.9"/><use href="#s" x="30.7" y="-1.9"/><use href="#s" x="22.7" y="-1.4"/><use href="#s" x="38.7" y="-1"/><use href="#s" x="18.7" y="-0.5"/><use href="#s" x="42.7" y="0"/><use href="#s" x="30.7" y="0"/>
<use href="#c" x="84.6" y="-122.1"/><use href="#c" x="84.6" y="-52.7"/><use href="#c" x="74.6" y="-35.9"/><use href="#c" x="88.6" y="-28.7"/><use href="#c" x="98.6" y="-21.5"/><use href="#c" x="70.6" y="-16.8"/><use href="#c" x="90.6" y="-14.4"/><use href="#c" x="78.6" y="-9.6"/><use href="#c" x="98.6" y="-7.2"/><use href="#c" x="72.6" y="-4.8"/>
<path class="eb" d="M22.7 -3.1H38.7M30.7 -3.1V-1.7M22.7 -1.7H38.7"/><path class="er" d="M76.6 -42.1H92.6M84.6 -42.1V-20.1M76.6 -20.1H92.6"/>
<text class="xl" x="30.7" y="20">naive</text><text class="xl" x="84.6" y="20">MNV</text>
<path class="pl" d="M30.7 -139.6H84.6"/><text class="pv" x="57.65" y="-144.6"><tspan font-style="italic">p</tspan>=0.014</text>
</g>

<!-- h-right -->
<g transform="translate(579.3,732.4)">
<rect class="bb" x="11.3" y="-7.5" width="35" height="7.5"/><rect class="rb" x="65.3" y="-46.8" width="35" height="46.8"/>
<path class="ax" d="M0 -145V0H109.8"/>
<path class="tk" d="M-4 0H0M-4 -28.9H0M-4 -57.8H0M-4 -86.7H0M-4 -115.5H0M-4 -144.4H0M28.8 0v5M82.8 0v5"/>
<text class="tl" x="-7" y="0">0</text><text class="tl" x="-7" y="-28.9">5</text><text class="tl" x="-7" y="-57.8">10</text><text class="tl" x="-7" y="-86.7">15</text><text class="tl" x="-7" y="-115.5">20</text><text class="tl" x="-7" y="-144.4">25</text>
<use href="#s" x="28.8" y="-31.8"/><use href="#s" x="40.8" y="-16.2"/><use href="#s" x="22.8" y="-11.6"/><use href="#s" x="34.8" y="-8.7"/><use href="#s" x="14.8" y="-5.8"/><use href="#s" x="42.8" y="-2.9"/><use href="#s" x="20.8" y="-1.7"/><use href="#s" x="32.8" y="-1.2"/><use href="#s" x="14.8" y="-0.6"/><use href="#s" x="42.8" y="0"/>
<use href="#c" x="82.8" y="-117.3"/><use href="#c" x="96.8" y="-58.9"/><use href="#c" x="72.8" y="-56.6"/><use href="#c" x="86.8" y="-52"/><use href="#c" x="70.8" y="-46.2"/><use href="#c" x="94.8" y="-43.3"/><use href="#c" x="78.8" y="-34.7"/><use href="#c" x="90.8" y="-28.9"/><use href="#c" x="86.8" y="-17.3"/><use href="#c" x="76.8" y="-12.7"/>
<path class="eb" d="M20.8 -10.7H36.8M28.8 -10.7V-4.3M20.8 -4.3H36.8"/><path class="er" d="M74.8 -56H90.8M82.8 -56V-37.6M74.8 -37.6H90.8"/>
<text class="xl" x="28.8" y="20">naive</text><text class="xl" x="82.8" y="20">MNV</text>
<path class="pl" d="M28.8 -135.2H82.8"/><text class="pv" x="55.8" y="-140.2"><tspan font-style="italic">p</tspan>=0.0008</text>
</g>

<!-- i-left -->
<g transform="translate(769,737.1)">
<rect class="bb" x="9.9" y="-7.3" width="35" height="7.3"/><rect class="rb" x="63.9" y="-37.2" width="35" height="37.2"/>
<path class="ax" d="M0 -145V0H107.3"/>
<path class="tk" d="M-4 0H0M-4 -45.4H0M-4 -90.8H0M-4 -136.2H0M27.4 0v5M81.4 0v5"/>
<text class="tl" x="-7" y="0">0.0</text><text class="tl" x="-7" y="-45.4">0.5</text><text class="tl" x="-7" y="-90.8">1.0</text><text class="tl" x="-7" y="-136.2">1.5</text>
<use href="#s" x="27.4" y="-38.1"/><use href="#s" x="19.4" y="-18.2"/><use href="#s" x="37.4" y="-13.6"/><use href="#s" x="13.4" y="-9.1"/><use href="#s" x="31.4" y="-4.5"/><use href="#s" x="41.4" y="-2.7"/><use href="#s" x="21.4" y="-1.8"/><use href="#s" x="13.4" y="-0.9"/><use href="#s" x="35.4" y="0"/><use href="#s" x="27.4" y="0"/>
<use href="#c" x="81.4" y="-127.1"/><use href="#c" x="81.4" y="-95.3"/><use href="#c" x="81.4" y="-45.4"/><use href="#c" x="93.4" y="-31.8"/><use href="#c" x="69.4" y="-27.2"/><use href="#c" x="87.4" y="-18.2"/><use href="#c" x="67.4" y="-13.6"/><use href="#c" x="95.4" y="-9.1"/><use href="#c" x="69.4" y="-1.8"/><use href="#c" x="93.4" y="0"/>
<path class="eb" d="M19.4 -10.9H35.4M27.4 -10.9V-3.7M19.4 -3.7H35.4"/><path class="er" d="M73.4 -50.8H89.4M81.4 -50.8V-23.6M73.4 -23.6H89.4"/>
<text class="xl" x="27.4" y="20">naive</text><text class="xl" x="81.4" y="20">MNV</text>
<path class="pl" d="M27.4 -146H81.4"/><text class="pv" x="54.4" y="-151"><tspan font-style="italic">p</tspan>=0.049</text>
</g>

<!-- i-right -->
<g transform="translate(945.4,739)">
<rect class="bb" x="8.8" y="-6.9" width="35" height="6.9"/><rect class="rb" x="63.5" y="-47.8" width="35" height="47.8"/>
<path class="ax" d="M0 -143.6V0H106.6"/>
<path class="tk" d="M-4 0H0M-4 -62.9H0M-4 -125.7H0M26.3 0v5M81 0v5"/>
<text class="tl" x="-7" y="0">0</text><text class="tl" x="-7" y="-62.9">10</text><text class="tl" x="-7" y="-125.7">20</text>
<use href="#s" x="26.3" y="-32.7"/><use href="#s" x="38.3" y="-15.7"/><use href="#s" x="16.3" y="-12.6"/><use href="#s" x="32.3" y="-6.3"/><use href="#s" x="12.3" y="-3.1"/><use href="#s" x="40.3" y="-1.9"/><use href="#s" x="20.3" y="-1.3"/><use href="#s" x="30.3" y="-0.6"/><use href="#s" x="12.3" y="0"/><use href="#s" x="40.3" y="0"/>
<use href="#c" x="81" y="-122.6"/><use href="#c" x="95" y="-59.7"/><use href="#c" x="69" y="-56.6"/><use href="#c" x="85" y="-50.3"/><use href="#c" x="67" y="-44"/><use href="#c" x="93" y="-40.9"/><use href="#c" x="79" y="-37.7"/><use href="#c" x="89" y="-31.4"/><use href="#c" x="77" y="-18.9"/><use href="#c" x="87" y="-14.5"/>
<path class="eb" d="M18.3 -10H34.3M26.3 -10V-3.8M18.3 -3.8H34.3"/><path class="er" d="M73 -57.2H89M81 -57.2V-38.4M73 -38.4H89"/>
<text class="xl" x="26.3" y="20">naive</text><text class="xl" x="81" y="20">MNV</text>
<path class="pl" d="M26.3 -140H81"/><text class="pv" x="53.65" y="-145"><tspan font-style="italic">p</tspan>=0.0009</text>
</g>

<!-- j-left -->
<g transform="translate(47.8,1063.9)">
<rect class="bb" x="9.7" y="-27.5" width="35" height="27.5"/><rect class="rb" x="63.6" y="-44.8" width="35" height="44.8"/>
<path class="ax" d="M0 -146V0H107.4"/>
<path class="tk" d="M-4 0H0M-4 -28.9H0M-4 -57.8H0M-4 -86.8H0M-4 -115.7H0M-4 -144.6H0M27.2 0v5M81.1 0v5"/>
<text class="tl" x="-7" y="0">0</text><text class="tl" x="-7" y="-28.9">1</text><text class="tl" x="-7" y="-57.8">2</text><text class="tl" x="-7" y="-86.8">3</text><text class="tl" x="-7" y="-115.7">4</text><text class="tl" x="-7" y="-144.6">5</text>
<use href="#s" x="27.2" y="-72.3"/><use href="#s" x="35.2" y="-60.7"/><use href="#s" x="17.2" y="-52.1"/><use href="#s" x="13.2" y="-28.9"/><use href="#s" x="39.2" y="-23.1"/><use href="#s" x="25.2" y="-20.2"/><use href="#s" x="41.2" y="-14.5"/><use href="#s" x="13.2" y="-8.7"/><use href="#s" x="33.2" y="-2.9"/><use href="#s" x="13.2" y="0"/>
<use href="#c" x="93.1" y="-115.7"/><use href="#c" x="69.1" y="-109.9"/><use href="#c" x="81.1" y="-57.8"/><use href="#c" x="67.1" y="-46.3"/><use href="#c" x="95.1" y="-31.8"/><use href="#c" x="67.1" y="-28.9"/><use href="#c" x="95.1" y="-23.1"/><use href="#c" x="67.1" y="-14.5"/><use href="#c" x="95.1" y="-8.7"/><use href="#c" x="67.1" y="-2.9"/>
<path class="eb" d="M19.2 -35.3H35.2M27.2 -35.3V-19.7M19.2 -19.7H35.2"/><path class="er" d="M73.1 -57.8H89.1M81.1 -57.8V-31.8M73.1 -31.8H89.1"/>
<text class="xl" x="27.2" y="20">naive</text><text class="xl" x="81.1" y="20">MNV</text>
<path class="pl" d="M27.2 -139H81.1"/><text class="pv" x="54.15" y="-144"><tspan font-style="italic">p</tspan>=0.27</text>
</g>

<!-- j-right -->
<g transform="translate(227.9,1062.7)">
<rect class="bb" x="9.7" y="-62.2" width="35" height="62.2"/><rect class="rb" x="64.3" y="-68.7" width="35" height="68.7"/>
<path class="ax" d="M0 -145V0H108.1"/>
<path class="tk" d="M-4 0H0M-4 -28.9H0M-4 -57.8H0M-4 -86.8H0M-4 -115.7H0M-4 -144.6H0M27.2 0v5M81.8 0v5"/>
<text class="tl" x="-7" y="0">0</text><text class="tl" x="-7" y="-28.9">20</text><text class="tl" x="-7" y="-57.8">40</text><text class="tl" x="-7" y="-86.8">60</text><text class="tl" x="-7" y="-115.7">80</text><text class="tl" x="-7" y="-144.6">100</text>
<use href="#s" x="31.2" y="-130.1"/><use href="#s" x="19.2" y="-122.9"/><use href="#s" x="33.2" y="-118.6"/><use href="#s" x="19.2" y="-101.2"/><use href="#s" x="21.2" y="-57.8"/><use href="#s" x="27.2" y="-43.4"/><use href="#s" x="15.2" y="-17.4"/><use href="#s" x="39.2" y="-14.5"/><use href="#s" x="29.2" y="-11.6"/><use href="#s" x="13.2" y="-7.2"/>
<use href="#c" x="71.8" y="-127.2"/><use href="#c" x="91.8" y="-124.4"/><use href="#c" x="89.8" y="-115.7"/><use href="#c" x="89.8" y="-104.1"/><use href="#c" x="89.8" y="-89.7"/><use href="#c" x="71.8" y="-57.8"/><use href="#c" x="89.8" y="-50.6"/><use href="#c" x="69.8" y="-14.5"/><use href="#c" x="81.8" y="-14.5"/><use href="#c" x="93.8" y="-14.5"/>
<path class="eb" d="M19.2 -78.1H35.2M27.2 -78.1V-46.3M19.2 -46.3H35.2"/><path class="er" d="M73.8 -83.9H89.8M81.8 -83.9V-53.5M73.8 -53.5H89.8"/>
<text class="xl" x="27.2" y="20">naive</text><text class="xl" x="81.8" y="20">MNV</text>
<path class="pl" d="M27.2 -150.5H81.8"/><text class="pv" x="54.5" y="-155.5"><tspan font-style="italic">p</tspan>=0.76</text>
</g>

<!-- k-left -->
<g transform="translate(402.5,1058.5)">
<rect class="bb" x="9.1" y="-26.9" width="35" height="26.9"/><rect class="rb" x="63.7" y="-12.6" width="35" height="12.6"/>
<path class="ax" d="M0 -146V0H107.5"/>
<path class="tk" d="M-4 0H0M-4 -35.9H0M-4 -71.8H0M-4 -107.7H0M-4 -143.6H0M26.6 0v5M81.2 0v5"/>
<text class="tl" x="-7" y="0">0</text><text class="tl" x="-7" y="-35.9">2</text><text class="tl" x="-7" y="-71.8">4</text><text class="tl" x="-7" y="-107.7">6</text><text class="tl" x="-7" y="-143.6">8</text>
<use href="#s" x="26.6" y="-129.2"/><use href="#s" x="26.6" y="-75.4"/><use href="#s" x="26.6" y="-55.6"/><use href="#s" x="26.6" y="-14.4"/><use href="#s" x="12.6" y="0"/><use href="#s" x="19.6" y="0"/><use href="#s" x="26.6" y="0"/><use href="#s" x="33.6" y="0"/><use href="#s" x="40.6" y="0"/>
<use href="#c" x="81.2" y="-46.7"/><use href="#c" x="83.2" y="-34.1"/><use href="#c" x="75.2" y="-26.9"/><use href="#c" x="87.2" y="-18"/><use href="#c" x="69.2" y="-9"/><use href="#c" x="93.2" y="-5.4"/><use href="#c" x="77.2" y="-1.8"/><use href="#c" x="67.2" y="0"/><use href="#c" x="95.2" y="0"/><use href="#c" x="85.2" y="0"/>
<path class="eb" d="M18.6 -41.3H34.6M26.6 -41.3V-12.5M18.6 -12.5H34.6"/><path class="er" d="M73.2 -18H89.2M81.2 -18V-7.2M73.2 -7.2H89.2"/>
<text class="xl" x="26.6" y="20">naive</text><text class="xl" x="81.2" y="20">MNV</text>
<path class="pl" d="M26.6 -147.3H81.2"/><text class="pv" x="53.9" y="-152.3"><tspan font-style="italic">p</tspan>=0.36</text>
</g>

<!-- k-right -->
<g transform="translate(577.5,1059.2)">
<rect class="bb" x="10.6" y="-21.8" width="35" height="21.8"/><rect class="rb" x="64.6" y="-24.3" width="35" height="24.3"/>
<path class="ax" d="M0 -145.6V0H108"/>
<path class="tk" d="M-4 0H0M-4 -40.4H0M-4 -80.9H0M-4 -121.3H0M28.1 0v5M82.1 0v5"/>
<text class="tl" x="-7" y="0">0.0</text><text class="tl" x="-7" y="-40.4">0.5</text><text class="tl" x="-7" y="-80.9">1.0</text><text class="tl" x="-7" y="-121.3">1.5</text>
<use href="#s" x="28.1" y="-109.2"/><use href="#s" x="28.1" y="-48.5"/><use href="#s" x="26.1" y="-44.5"/><use href="#s" x="28.1" y="-24.3"/><use href="#s" x="14.1" y="-4"/><use href="#s" x="21.1" y="0"/><use href="#s" x="28.1" y="0"/><use href="#s" x="35.1" y="0"/><use href="#s" x="42.1" y="0"/><use href="#s" x="14.1" y="0"/>
<use href="#c" x="82.1" y="-115.6"/><use href="#c" x="82.1" y="-79.3"/><use href="#c" x="82.1" y="-46.9"/><use href="#c" x="68.1" y="-2.4"/><use href="#c" x="75.1" y="0"/><use href="#c" x="82.1" y="0"/><use href="#c" x="89.1" y="0"/><use href="#c" x="96.1" y="0"/>
<path class="eb" d="M20.1 -33.1H36.1M28.1 -33.1V-10.5M20.1 -10.5H36.1"/><path class="er" d="M74.1 -38H90.1M82.1 -38V-10.6M74.1 -10.6H90.1"/>
<text class="xl" x="28.1" y="20">naive</text><text class="xl" x="82.1" y="20">MNV</text>
<path class="pl" d="M28.1 -137.6H82.1"/><text class="pv" x="55.1" y="-142.6"><tspan font-style="italic">p</tspan>=0.87</text>
</g>

<!-- l-left -->
<g transform="translate(766.5,1061.5)">
<rect class="bb" x="11.3" y="-20.5" width="35" height="20.5"/><rect class="rb" x="65.3" y="-23.4" width="35" height="23.4"/>
<path class="ax" d="M0 -146V0H109.8"/>
<path class="tk" d="M-4 0H0M-4 -48.7H0M-4 -97.4H0M-4 -146.1H0M28.8 0v5M82.8 0v5"/>
<text class="tl" x="-7" y="0">0</text><text class="tl" x="-7" y="-48.7">1</text><text class="tl" x="-7" y="-97.4">2</text><text class="tl" x="-7" y="-146.1">3</text>
<use href="#s" x="28.8" y="-119.3"/><use href="#s" x="28.8" y="-77.9"/><use href="#s" x="28.8" y="-12.2"/><use href="#s" x="32.8" y="-4.9"/><use href="#s" x="14.8" y="0"/><use href="#s" x="21.8" y="0"/><use href="#s" x="28.8" y="0"/><use href="#s" x="35.8" y="0"/><use href="#s" x="42.8" y="0"/>
<use href="#c" x="82.8" y="-122.7"/><use href="#c" x="82.8" y="-60.9"/><use href="#c" x="76.8" y="-21.9"/><use href="#c" x="90.8" y="-19.5"/><use href="#c" x="84.8" y="-17"/><use href="#c" x="82.8" y="-4.9"/><use href="#c" x="68.8" y="0"/><use href="#c" x="75.8" y="0"/><use href="#c" x="89.8" y="0"/><use href="#c" x="96.8" y="0"/>
<path class="eb" d="M20.8 -34.1H36.8M28.8 -34.1V-6.9M20.8 -6.9H36.8"/><path class="er" d="M74.8 -36.5H90.8M82.8 -36.5V-10.3M74.8 -10.3H90.8"/>
<text class="xl" x="28.8" y="20">naive</text><text class="xl" x="82.8" y="20">MNV</text>
<path class="pl" d="M28.8 -143H82.8"/><text class="pv" x="55.8" y="-148"><tspan font-style="italic">p</tspan>=0.86</text>
</g>

<!-- l-right -->
<g transform="translate(941.8,1061.7)">
<rect class="bb" x="10.6" y="-12.4" width="35" height="12.4"/><rect class="rb" x="63.9" y="-17.5" width="35" height="17.5"/>
<path class="ax" d="M0 -144.4V0H108"/>
<path class="tk" d="M-4 0H0M-4 -51.5H0M-4 -103H0M28.1 0v5M81.4 0v5"/>
<text class="tl" x="-7" y="0">0.0</text><text class="tl" x="-7" y="-51.5">0.5</text><text class="tl" x="-7" y="-103">1.0</text>
<use href="#s" x="28.1" y="-109.2"/><use href="#s" x="28.1" y="-15.5"/><use href="#s" x="30.1" y="-5.2"/><use href="#s" x="14.1" y="0"/><use href="#s" x="21.1" y="0"/><use href="#s" x="28.1" y="0"/><use href="#s" x="35.1" y="0"/><use href="#s" x="42.1" y="0"/>
<use href="#c" x="81.4" y="-100.9"/><use href="#c" x="79.4" y="-41.2"/><use href="#c" x="85.4" y="-39.1"/><use href="#c" x="81.4" y="-5.2"/><use href="#c" x="67.4" y="0"/><use href="#c" x="74.4" y="0"/><use href="#c" x="88.4" y="0"/><use href="#c" x="95.4" y="0"/>
<path class="eb" d="M20.1 -23.7H36.1M28.1 -23.7V-1.1M20.1 -1.1H36.1"/><path class="er" d="M73.4 -28.8H89.4M81.4 -28.8V-6.2M73.4 -6.2H89.4"/>
<text class="xl" x="28.1" y="20">naive</text><text class="xl" x="81.4" y="20">MNV</text>
<path class="pl" d="M28.1 -131.5H81.4"/><text class="pv" x="54.75" y="-136.5"><tspan font-style="italic">p</tspan>=0.72</text>
</g>
</svg>
</body></html>
